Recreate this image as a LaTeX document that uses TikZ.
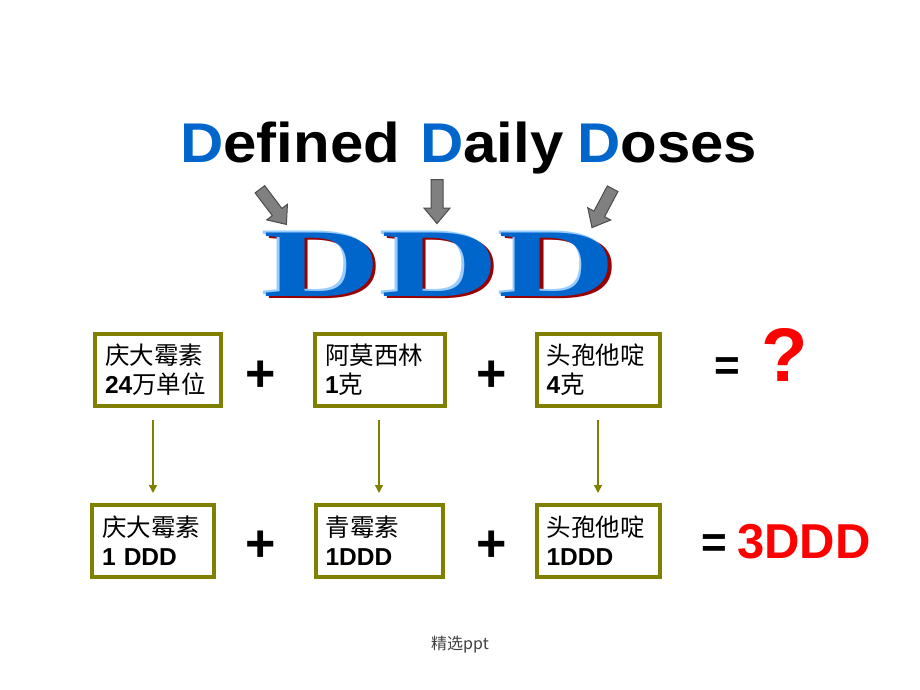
\documentclass[tikz,border=0pt]{standalone}
\usepackage{fontspec}
\usepackage{graphicx}
\setmainfont{Liberation Sans}
\newfontfamily\cjk{Noto Sans CJK SC}
\newfontfamily\dddfont{Liberation Serif}
\usetikzlibrary{arrows.meta, positioning, shapes.arrows}
\definecolor{DoseBlue}{RGB}{0, 102, 204}
\definecolor{DoseLight}{RGB}{153, 204, 255}
\definecolor{DoseShadow}{RGB}{153, 0, 0}
\definecolor{BoxOlive}{RGB}{128, 128, 0}
\definecolor{ArrowGray}{RGB}{128, 128, 128}
\definecolor{AlertRed}{RGB}{255, 0, 0}
\newcommand{\dose}[1]{{\normalfont\bfseries #1}}
\newcommand{\bigD}{\textcolor{DoseBlue}{D}}
\newcommand{\wideword}[1]{\scalebox{1.07}[1]{#1}}
% layered letters: dark red shadow, light rim, blue face
\newcommand{\shadowed}[1]{%
  \makebox[0pt][l]{\hspace{2pt}\raisebox{-2pt}{\textcolor{DoseShadow}{#1}}}%
  \makebox[0pt][l]{\hspace{-1.5pt}\raisebox{1.5pt}{\textcolor{DoseLight}{#1}}}%
  \textcolor{DoseBlue}{#1}}

\begin{document}
\begin{tikzpicture}[x=1pt,y=1pt,
    title/.style={font=\bfseries\fontsize{56}{56}\selectfont, inner sep=0pt, anchor=base west},
    ddd/.style={font=\dddfont\bfseries\fontsize{97}{97}\selectfont, inner sep=0pt},
    fatarrow/.style={single arrow, draw=black!70, fill=ArrowGray, line width=1pt, inner sep=5.5pt,
                     minimum height=44pt, single arrow head extend=7pt, single arrow tip angle=80},
    drugbox/.style={draw=BoxOlive, line width=4pt, fill=white, minimum height=72pt, inner xsep=10pt,
                    align=left, text width=#1, font=\cjk\fontsize{24.5}{29}\selectfont},
    flow/.style={-{Triangle[length=8pt, width=8pt]}, BoxOlive, line width=1.5pt,
                 shorten <=12pt, shorten >=10pt},
    op/.style={font=\bfseries\fontsize{52}{52}\selectfont},
    eq/.style={font=\bfseries\fontsize{44}{44}\selectfont}]
  \fill[white] (0,0) rectangle (920,-690);
  \useasboundingbox (0,0) rectangle (920,-690);

  % title words
  \node[title] (wdefined) at (180,-162) {\wideword{\bigD efined}};
  \node[title] (wdaily) at (420,-162) {\wideword{\bigD aily}};
  \node[title] (wdoses) at (577,-162) {\wideword{\bigD oses}};

  % pointers
  \node[fatarrow, rotate=-53] (pt1) at (271,-204) {};
  \node[fatarrow, rotate=-90] (pt2) at (437,-198) {};
  \node[fatarrow, rotate=-118] (pt3) at (604,-205) {};

  % DDD
  \node[ddd] (ddd) at (440,-265) {\scalebox{1.68}[1]{\shadowed{DDD}}};

  % first row
  \node[drugbox=106pt] (genta) at (158,-370) {庆大霉素\\\dose{24}万单位};
  \node[op] (plusa) at (261,-376) {+};
  \node[drugbox=110pt] (amoxi) at (380,-370) {阿莫西林\\\dose{1}克};
  \node[op] (plusb) at (492,-376) {+};
  \node[drugbox=103pt] (cefo) at (598,-370) {头孢他啶\\\dose{4}克};
  \node[eq] (eqa) at (727,-369) {=};
  \node[font=\bfseries\fontsize{76}{76}\selectfont, AlertRed] (query) at (785,-355) {?};

  % second row
  \node[drugbox=102pt] (gentaddd) at (153,-541) {庆大霉素\\\dose{1 DDD}};
  \node[op] (plusc) at (261,-546) {+};
  \node[drugbox=107pt] (penddd) at (379,-541) {青霉素\\\dose{1DDD}};
  \node[op] (plusd) at (492,-546) {+};
  \node[drugbox=103pt] (cefoddd) at (598,-541) {头孢他啶\\\dose{1DDD}};
  \node[eq] (eqb) at (714,-546) {=};
  \node[font=\bfseries\fontsize{49}{49}\selectfont, AlertRed] (total) at (804,-542) {3DDD};

  \draw[flow] (genta.south -| gentaddd.north) -- (gentaddd.north);
  \draw[flow] (amoxi.south -| penddd.north) -- (penddd.north);
  \draw[flow] (cefo.south -| cefoddd.north) -- (cefoddd.north);

  \node[font=\cjk\fontsize{16}{16}\selectfont, text=black!75] (footer) at (460,-645) {精选ppt};
\end{tikzpicture}
\end{document}
